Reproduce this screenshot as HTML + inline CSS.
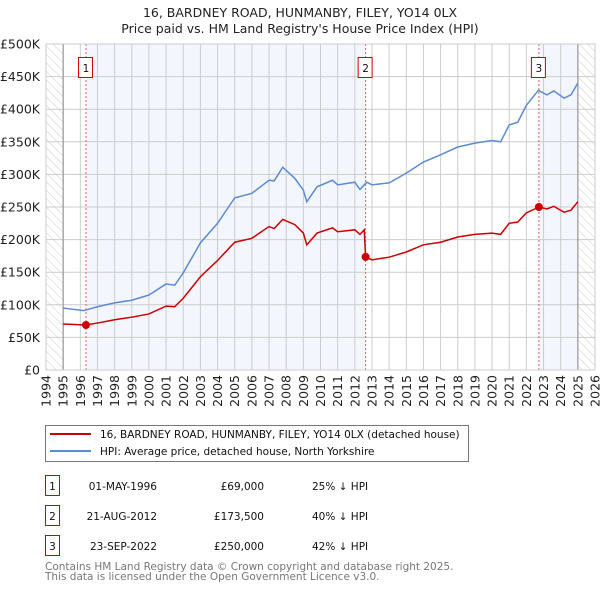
<!DOCTYPE html>
<html><head><meta charset="utf-8">
<style>
body{margin:0;background:#fff;font-family:"DejaVu Sans","Liberation Sans",sans-serif;}
svg text{font-family:"DejaVu Sans","Liberation Sans",sans-serif;}
</style></head>
<body>
<svg id="chart" width="600" height="590" viewBox="0 0 600 590" xmlns="http://www.w3.org/2000/svg">
<defs>
<pattern id="hatch" width="6" height="6" patternUnits="userSpaceOnUse" patternTransform="rotate(-45)">
<line x1="0" y1="0" x2="0" y2="6" stroke="#ccc" stroke-width="1"/>
</pattern>
</defs>
<text x="300" y="17" text-anchor="middle" font-size="12.5" fill="#222">16, BARDNEY ROAD, HUNMANBY, FILEY, YO14 0LX</text>
<text x="300" y="33" text-anchor="middle" font-size="12.5" fill="#222">Price paid vs. HM Land Registry's House Price Index (HPI)</text>
<g id="plot"></g>
<g>
<rect x="45.5" y="425.5" width="423" height="36" fill="#fff" stroke="#777"/>
<line x1="50" y1="434" x2="91" y2="434" stroke="#cc0000" stroke-width="2"/>
<text x="100" y="438" font-size="10.5" fill="#111">16, BARDNEY ROAD, HUNMANBY, FILEY, YO14 0LX (detached house)</text>
<line x1="50" y1="451" x2="91" y2="451" stroke="#5b8bd0" stroke-width="2"/>
<text x="100" y="455" font-size="10.5" fill="#111">HPI: Average price, detached house, North Yorkshire</text>
</g>
<g font-size="10.5" fill="#111">
<rect x="45.5" y="475.5" width="14" height="20" fill="#fff" stroke="#cc0000"/><text x="52.5" y="490" text-anchor="middle">1</text>
<text x="157" y="490" text-anchor="end">01-MAY-1996</text><text x="264" y="490" text-anchor="end">£69,000</text><text x="312" y="490">25% ↓ HPI</text>
<rect x="45.5" y="505.5" width="14" height="20" fill="#fff" stroke="#cc0000"/><text x="52.5" y="520" text-anchor="middle">2</text>
<text x="157" y="520" text-anchor="end">21-AUG-2012</text><text x="264" y="520" text-anchor="end">£173,500</text><text x="312" y="520">40% ↓ HPI</text>
<rect x="45.5" y="535.5" width="14" height="20" fill="#fff" stroke="#cc0000"/><text x="52.5" y="550" text-anchor="middle">3</text>
<text x="157" y="550" text-anchor="end">23-SEP-2022</text><text x="264" y="550" text-anchor="end">£250,000</text><text x="312" y="550">42% ↓ HPI</text>
</g>
<text x="45" y="570" font-size="10.5" fill="#777">Contains HM Land Registry data © Crown copyright and database right 2025.</text>
<text x="45" y="580" font-size="10.5" fill="#777">This data is licensed under the Open Government Licence v3.0.</text>
</svg>
<script>
const hpiYears=[1995,1996.2,1997,1998,1999,2000,2001,2001.5,2002,2003,2004,2005,2006,2007,2007.3,2007.8,2008.5,2009,2009.2,2009.8,2010.7,2011,2012,2012.3,2012.7,2013,2014,2015,2016,2017,2018,2019,2020,2020.5,2021,2021.5,2022,2022.7,2023.2,2023.6,2024.2,2024.6,2025];
const hpiValues=[95,91,97,103,107,115,132,130,149,195,225,264,271,291,290,311,294,276,258,281,291,284,288,277,288,284,287,302,319,330,342,348,352,350,376,380,406,429,422,428,417,422,440];
const propYears=[1995,1996.33,1997,1998,1999,2000,2001,2001.5,2002,2003,2004,2005,2006,2007,2007.3,2007.8,2008.5,2009,2009.2,2009.8,2010.7,2011,2012,2012.3,2012.55,2012.63,2013,2014,2015,2016,2017,2018,2019,2020,2020.5,2021,2021.5,2022,2022.73,2023.2,2023.6,2024.2,2024.6,2025];
const propValues=[70.5,69,72,77,81,86,98,97,110,143,168,196,202,220,217,231,223,210,192,210,218,212,215,208,215,173.5,169,173,181,192,196,204,208,210,208,225,227,241,250,247,251,242,245,258];
const saleYears=[1996.33,2012.63,2022.73];
const saleValues=[69,173.5,250];
const saleLabels=["1","2","3"];
const yTicks=[0,50,100,150,200,250,300,350,400,450,500];
const yTickLabels=["£0","£50K","£100K","£150K","£200K","£250K","£300K","£350K","£400K","£450K","£500K"];
const xTicks=[1994,1995,1996,1997,1998,1999,2000,2001,2002,2003,2004,2005,2006,2007,2008,2009,2010,2011,2012,2013,2014,2015,2016,2017,2018,2019,2020,2021,2022,2023,2024,2025,2026];

const NS="http://www.w3.org/2000/svg";
const X0=46,X1=595,Y0=370,Y1=44;
const xs=y=>X0+(y-1994)/(2026-1994)*(X1-X0);
const ys=v=>Y0-(v/500)*(Y0-Y1);
const g=document.getElementById('plot');
function mk(tag,attrs){const e=document.createElementNS(NS,tag);for(const k in attrs)e.setAttribute(k,attrs[k]);g.appendChild(e);return e;}

let r=mk('rect',{x:X0,y:Y1,width:X1-X0,height:Y0-Y1,fill:'#fff'});


r=mk('rect',{x:xs(saleYears[0]),y:Y1,width:xs(saleYears[1])-xs(saleYears[0]),height:Y0-Y1,fill:'#f3f6fd'});


r=mk('rect',{x:xs(saleYears[2]),y:Y1,width:xs(2025)-xs(saleYears[2]),height:Y0-Y1,fill:'#f3f6fd'});


r=mk('rect',{x:X0,y:Y1,width:xs(1995)-X0,height:Y0-Y1,fill:'url(#hatch)'});


r=mk('rect',{x:xs(2025),y:Y1,width:X1-xs(2025),height:Y0-Y1,fill:'url(#hatch)'});



yTicks.forEach((t,i)=>{
  const l=mk('line',{x1:X0,x2:X1,y1:ys(t),y2:ys(t),stroke:'#ccc','stroke-width':1});
  
  
  const tx=mk('text',{x:40,y:ys(t)+4.5,'text-anchor':'end','font-size':12.5,fill:'#222'});
  
  
  tx.textContent=yTickLabels[i];
});
xTicks.forEach(t=>{
  const l=mk('line',{x1:xs(t),x2:xs(t),y1:Y1,y2:Y0,stroke:'#ccc','stroke-width':1});
  
  
  const x=xs(t)+4.5,y=375;
  const tx=mk('text',{x:x,y:y,'text-anchor':'end','font-size':12.5,fill:'#222',transform:`rotate(-90 ${x} ${y})`});
  
  
  tx.textContent=t;
});
[1995,2025].forEach(t=>{
  const l=mk('line',{x1:xs(t),x2:xs(t),y1:Y1,y2:Y0,stroke:'#999','stroke-width':1.2});
  
  
});
saleYears.forEach(t=>{
  const l=mk('line',{x1:xs(t),x2:xs(t),y1:Y1,y2:Y0,stroke:'#e06060','stroke-width':1,'stroke-dasharray':'2,2'});
  
  
});
let p=mk('polyline',{points:hpiYears.map((y,i)=>xs(y)+','+ys(hpiValues[i])).join(' '),fill:'none',stroke:'#5b8bd0','stroke-width':1.5});


p=mk('polyline',{points:propYears.map((y,i)=>xs(y)+','+ys(propValues[i])).join(' '),fill:'none',stroke:'#cc0000','stroke-width':1.5});


saleYears.forEach((t,i)=>{
  const c=mk('circle',{cx:xs(t),cy:ys(saleValues[i]),r:4,fill:'#cc0000'});
  
  
  const b=mk('rect',{x:xs(t)-7.5,y:57.5,width:14,height:20,fill:'#fff',stroke:'#cc0000'});
  
  
  const tx=mk('text',{x:xs(t),y:72,'text-anchor':'middle','font-size':10.5,fill:'#111'});
  
  
  tx.textContent=saleLabels[i];
});
const f=mk('rect',{x:X0,y:Y1,width:X1-X0,height:Y0-Y1,fill:'none',stroke:'#ccc'});


</script>
</body></html>
